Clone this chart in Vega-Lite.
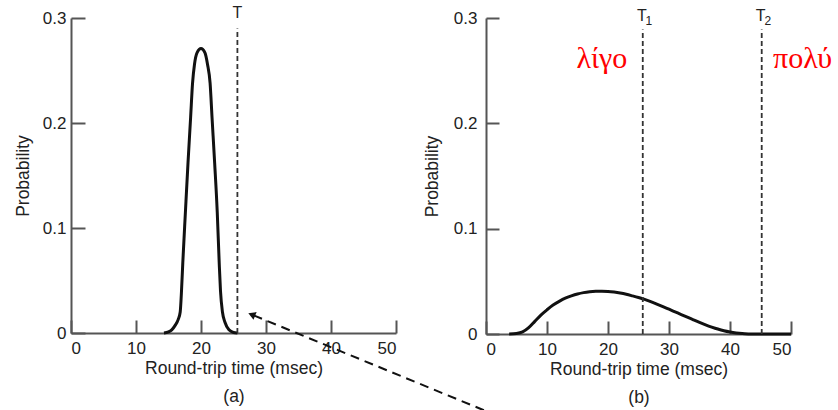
{
  "$schema": "https://vega.github.io/schema/vega-lite/v6.json",
  "padding": {"left": 14, "top": 4, "right": 0, "bottom": 0},
  "bounds": "flush",
  "spacing": 90,
  "config": {
    "view": {"stroke": null},
    "axis": {
      "grid": false,
      "domainColor": "#555555",
      "domainWidth": 2,
      "tickColor": "#555555",
      "tickWidth": 2,
      "labelFont": "Liberation Sans",
      "labelFontSize": 17,
      "labelColor": "#222222",
      "titleFont": "Liberation Sans",
      "titleFontSize": 17.5,
      "titleFontWeight": "normal",
      "titleColor": "#222222"
    }
  },
  "datasets": {
    "curveA": [
      {"x": 14.3, "y": 0}, {"x": 15.0, "y": 0.001}, {"x": 15.5, "y": 0.003}, {"x": 16.0, "y": 0.007},
      {"x": 16.5, "y": 0.013}, {"x": 16.8, "y": 0.02}, {"x": 17.0, "y": 0.04}, {"x": 17.2, "y": 0.067},
      {"x": 17.6, "y": 0.115}, {"x": 18.0, "y": 0.162}, {"x": 18.4, "y": 0.205}, {"x": 18.7, "y": 0.238},
      {"x": 19.0, "y": 0.256}, {"x": 19.4, "y": 0.267}, {"x": 20.0, "y": 0.271}, {"x": 20.6, "y": 0.267},
      {"x": 21.0, "y": 0.256}, {"x": 21.4, "y": 0.238}, {"x": 21.7, "y": 0.205}, {"x": 22.1, "y": 0.162},
      {"x": 22.5, "y": 0.115}, {"x": 22.8, "y": 0.067}, {"x": 23.0, "y": 0.04}, {"x": 23.3, "y": 0.02},
      {"x": 23.7, "y": 0.01}, {"x": 24.3, "y": 0.003}, {"x": 25.0, "y": 0.0005}, {"x": 25.6, "y": 0}
    ],
    "curveB": [
      {"x": 3.8, "y": 0}, {"x": 5.0, "y": 0.0005}, {"x": 6.0, "y": 0.002}, {"x": 7.0, "y": 0.006},
      {"x": 8.0, "y": 0.012}, {"x": 9.0, "y": 0.018}, {"x": 10.0, "y": 0.023}, {"x": 11.0, "y": 0.0275},
      {"x": 12.0, "y": 0.031}, {"x": 13.0, "y": 0.034}, {"x": 14.0, "y": 0.0362}, {"x": 15.0, "y": 0.038},
      {"x": 16.0, "y": 0.0393}, {"x": 17.0, "y": 0.0401}, {"x": 18.0, "y": 0.0405}, {"x": 19.0, "y": 0.0406},
      {"x": 20.0, "y": 0.0404}, {"x": 21.0, "y": 0.0398}, {"x": 22.0, "y": 0.0389}, {"x": 23.0, "y": 0.0377},
      {"x": 24.0, "y": 0.0362}, {"x": 25.0, "y": 0.0346}, {"x": 26.0, "y": 0.0328}, {"x": 27.0, "y": 0.0307},
      {"x": 28.0, "y": 0.0284}, {"x": 29.0, "y": 0.026}, {"x": 30.0, "y": 0.0235}, {"x": 31.0, "y": 0.021},
      {"x": 32.0, "y": 0.0185}, {"x": 33.0, "y": 0.016}, {"x": 34.0, "y": 0.0135}, {"x": 35.0, "y": 0.011},
      {"x": 36.0, "y": 0.0087}, {"x": 37.0, "y": 0.0066}, {"x": 38.0, "y": 0.0047}, {"x": 39.0, "y": 0.0031},
      {"x": 40.0, "y": 0.0019}, {"x": 41.0, "y": 0.001}, {"x": 42.0, "y": 0.0004}, {"x": 43.0, "y": 0.0001},
      {"x": 44.0, "y": 0}, {"x": 50.0, "y": 0}
    ]
  },
  "hconcat": [
    {
      "width": 325,
      "height": 315,
      "layer": [
        {
          "data": {"name": "curveA"},
          "mark": {"type": "line", "color": "#111111", "strokeWidth": 3, "interpolate": "monotone"},
          "encoding": {
            "x": {"field": "x", "type": "quantitative", "scale": {"domain": [0, 50], "nice": false},
              "axis": {"values": [0, 10, 20, 30, 40, 50], "title": ["Round-trip time (msec)", "(a)"], "titleLineHeight": 28, "tickSize": -13, "labelPadding": 20, "titlePadding": 3}},
            "y": {"field": "y", "type": "quantitative", "scale": {"domain": [0, 0.3], "nice": false},
              "axis": {"values": [0, 0.1, 0.2, 0.3], "format": "~g", "title": "Probability", "tickSize": -14, "labelPadding": 19, "titlePadding": 10}}
          }
        },
        {
          "data": {"values": [{"x": 25.6, "y": 0, "y2": 0.29}]},
          "mark": {"type": "rule", "color": "#333333", "strokeWidth": 1.8, "strokeDash": [5, 3]},
          "encoding": {
            "x": {"field": "x", "type": "quantitative"},
            "y": {"field": "y", "type": "quantitative"},
            "y2": {"field": "y2"}
          }
        },
        {
          "data": {"values": [{"x": 25.6, "y": 0.305, "label": "T"}]},
          "mark": {"type": "text", "font": "Liberation Sans", "fontSize": 16, "color": "#222222", "baseline": "middle"},
          "encoding": {
            "x": {"field": "x", "type": "quantitative"},
            "y": {"field": "y", "type": "quantitative"},
            "text": {"field": "label"}
          }
        },
        {
          "data": {"values": [{"x": 28.1, "y": 0.0168, "x2": 63.7, "y2": -0.074}]},
          "mark": {"type": "rule", "color": "#111111", "strokeWidth": 2, "strokeDash": [9, 6]},
          "encoding": {
            "x": {"field": "x", "type": "quantitative"},
            "y": {"field": "y", "type": "quantitative"},
            "x2": {"field": "x2"},
            "y2": {"field": "y2"}
          }
        },
        {
          "data": {"values": [{"x": 27.8, "y": 0.0175}]},
          "mark": {"type": "point", "shape": "triangle-left", "filled": true, "color": "#111111", "size": 70, "angle": 22, "opacity": 1},
          "encoding": {
            "x": {"field": "x", "type": "quantitative"},
            "y": {"field": "y", "type": "quantitative"}
          }
        }
      ]
    },
    {
      "width": 305,
      "height": 316,
      "layer": [
        {
          "data": {"name": "curveB"},
          "mark": {"type": "line", "color": "#111111", "strokeWidth": 3, "interpolate": "monotone"},
          "encoding": {
            "x": {"field": "x", "type": "quantitative", "scale": {"domain": [0, 50], "nice": false},
              "axis": {"values": [0, 10, 20, 30, 40, 50], "title": ["Round-trip time (msec)", "(b)"], "titleLineHeight": 28, "tickSize": -13, "labelPadding": 20, "titlePadding": 3}},
            "y": {"field": "y", "type": "quantitative", "scale": {"domain": [0, 0.3], "nice": false},
              "axis": {"values": [0, 0.1, 0.2, 0.3], "format": "~g", "title": "Probability", "tickSize": -13, "labelPadding": 22, "titlePadding": 12}}
          }
        },
        {
          "data": {"values": [{"x": 25.7, "y": 0, "y2": 0.289}, {"x": 45.2, "y": 0, "y2": 0.289}]},
          "mark": {"type": "rule", "color": "#333333", "strokeWidth": 1.8, "strokeDash": [5, 3]},
          "encoding": {
            "x": {"field": "x", "type": "quantitative"},
            "y": {"field": "y", "type": "quantitative"},
            "y2": {"field": "y2"}
          }
        },
        {
          "data": {"values": [{"x": 25.7, "y": 0.302, "label": "T"}, {"x": 45.2, "y": 0.302, "label": "T"}]},
          "mark": {"type": "text", "font": "Liberation Sans", "fontSize": 16, "color": "#222222", "baseline": "middle", "dx": -1},
          "encoding": {
            "x": {"field": "x", "type": "quantitative"},
            "y": {"field": "y", "type": "quantitative"},
            "text": {"field": "label"}
          }
        },
        {
          "data": {"values": [{"x": 25.7, "y": 0.302, "label": "1"}, {"x": 45.2, "y": 0.302, "label": "2"}]},
          "mark": {"type": "text", "font": "Liberation Sans", "fontSize": 12, "color": "#222222", "baseline": "middle", "dx": 6, "dy": 5},
          "encoding": {
            "x": {"field": "x", "type": "quantitative"},
            "y": {"field": "y", "type": "quantitative"},
            "text": {"field": "label"}
          }
        },
        {
          "data": {"values": [{"x": 19.0, "y": 0.2526, "label": "λίγο"}, {"x": 51.9, "y": 0.2526, "label": "πολύ"}]},
          "mark": {"type": "text", "font": "Liberation Serif", "fontSize": 30, "color": "#ff0000", "baseline": "alphabetic", "align": "center"},
          "encoding": {
            "x": {"field": "x", "type": "quantitative"},
            "y": {"field": "y", "type": "quantitative"},
            "text": {"field": "label"}
          }
        }
      ]
    }
  ]
}
